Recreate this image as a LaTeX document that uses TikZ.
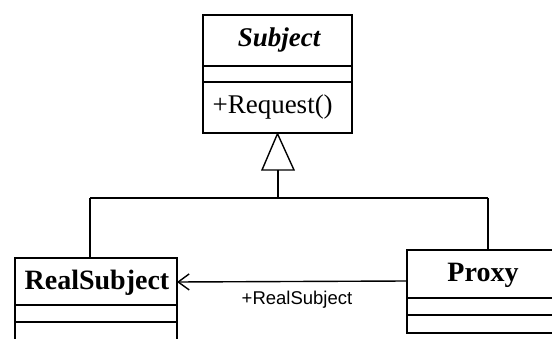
\documentclass[tikz,border=0pt]{standalone}
\usepackage{fontspec}
\setmainfont{Liberation Serif}
\newfontfamily\labelfont{Liberation Sans}
\usetikzlibrary{arrows.meta}
\begin{document}
\begin{tikzpicture}[x=1pt,y=-1pt,
  umlbox/.style={draw,line width=1.4pt,rectangle,inner sep=0pt},
  conn/.style={line width=1.4pt},
  nametext/.style={font=\fontsize{28}{30}\selectfont\bfseries},
  optext/.style={font=\fontsize{27}{30}\selectfont},
  assoclabel/.style={font=\labelfont\fontsize{18.5}{20}\selectfont}]
\clip (0,0) rectangle (552,339);
% Subject
\node[umlbox,minimum width=149pt,minimum height=118pt] (subj) at (277.5,74) {};
\node[font=\fontsize{27}{30}\selectfont\bfseries\itshape] (subjname) at (279,40) {Subject};
\draw[conn] (203,66) -- (352,66);
\draw[conn] (203,82) -- (352,82);
\node[optext,anchor=west] (req) at (209,107) {+Request()};
% RealSubject
\node[umlbox,minimum width=162pt,minimum height=90pt] (real) at (96,303) {};
\node[nametext] (realname) at (97,283) {RealSubject};
\draw[conn] (15,305) -- (177,305);
\draw[conn] (15,322) -- (177,322);
% Proxy
\node[umlbox,minimum width=160pt,minimum height=83pt] (proxy) at (487,291.5) {};
\node[nametext] (proxyname) at (483,275) {Proxy};
\draw[conn] (407,298) -- (567,298);
\draw[conn] (407,315) -- (567,315);
% generalization
\coordinate (tribase) at (278,170);
\coordinate (junc) at (278,198);
\draw[conn,line join=miter] (subj.south) -- (262,170) -- (294,170) -- cycle;
\draw[conn] (tribase) -- (junc);
\draw[conn] (90,198) -- (488,198);
\draw[conn] (90,198) -- (90,258);
\draw[conn] (488,198) -- (488,250);
% association
\draw[conn,-{Straight Barb[length=11pt,width=16pt,line width=1.4pt]}] (407,281) -- (177,282);
\node[assoclabel] (lbl) at (297,300) {+RealSubject};
\end{tikzpicture}
\end{document}
